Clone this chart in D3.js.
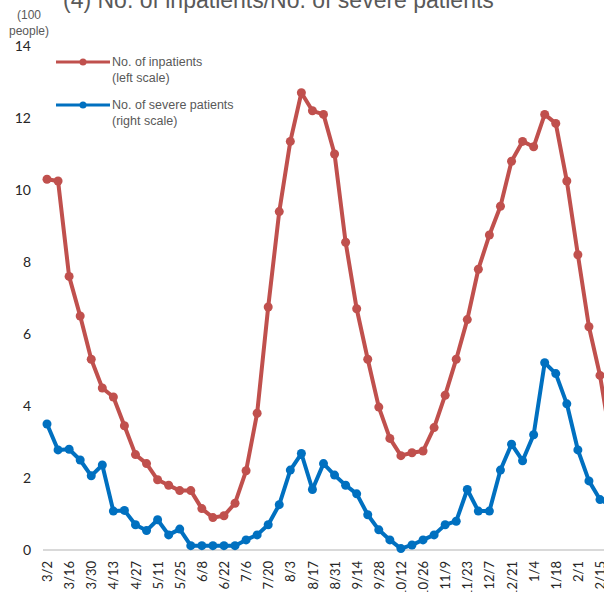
<!DOCTYPE html>
<html>
<head>
<meta charset="utf-8">
<script src="https://cdn.jsdelivr.net/npm/d3@7"></script>
<style>
  body { margin: 0; background: #fff; }
  svg { display: block; font-family: "Liberation Sans", Arial, sans-serif; }
</style>
</head>
<body>
<div class="viz"></div>
<script>
// weekly data, starting 3/2
var weeks = ["3/2","3/9","3/16","3/23","3/30","4/6","4/13","4/20","4/27","5/4","5/11","5/18","5/25","6/1","6/8","6/15","6/22","6/29","7/6","7/13","7/20","7/27","8/3","8/10","8/17","8/24","8/31","9/7","9/14","9/21","9/28","10/5","10/12","10/19","10/26","11/2","11/9","11/16","11/23","11/30","12/7","12/14","12/21","12/28","1/4","1/11","1/18","1/25","2/1","2/8","2/15","2/22"];

// inpatients, in 100 people (left scale)
var inpatients = [10.3,10.25,7.6,6.5,5.3,4.5,4.25,3.45,2.65,2.4,1.95,1.8,1.65,1.65,1.15,0.9,0.95,1.3,2.2,3.8,6.75,9.4,11.35,12.7,12.2,12.1,11.0,8.55,6.7,5.3,3.97,3.1,2.62,2.7,2.75,3.4,4.3,5.3,6.4,7.8,8.75,9.55,10.8,11.35,11.2,12.1,11.85,10.25,8.2,6.2,4.85,3.0];

// severe patients (right scale)
var severe = [17.5,13.9,14,12.5,10.3,11.8,5.4,5.5,3.5,2.7,4.2,2.1,2.9,0.6,0.6,0.6,0.6,0.6,1.4,2.1,3.5,6.3,11.1,13.4,8.4,12,10.4,9,7.8,4.9,2.8,1.4,0.2,0.7,1.4,2.1,3.5,4,8.4,5.4,5.4,11.1,14.7,12.4,16,26,24.5,20.3,13.9,9.6,7,6.2];

var leftTicks = [0, 2, 4, 6, 8, 10, 12, 14];
var labelWeeks = weeks.filter(function(d, i) { return i % 2 === 0; });

var width = 604, height = 592;
var red = "#C0504D", blue = "#0070C0";

var svg = d3.select('.viz').append('svg')
    .attr('width', width)
    .attr('height', height);

var x = d3.scalePoint()
    .domain(weeks)
    .range([47, 47 + 51 * 11.06]);

var yLeft = d3.scaleLinear()
    .domain([0, 14])
    .range([550, 46]);

var yRight = d3.scaleLinear()
    .domain([0, 70])
    .range([550, 46]);

// title (cut off at top)
svg.append('text')
    .attr('x', 63)
    .attr('y', 8)
    .attr('fill', '#595959')
    .style('font-size', '23px')
    .text('(4) No. of inpatients/No. of severe patients');

// unit label
svg.append('text')
    .attr('x', 29).attr('y', 19)
    .attr('text-anchor', 'middle')
    .attr('fill', '#595959')
    .style('font-size', '12px')
    .text('(100');
svg.append('text')
    .attr('x', 29).attr('y', 35)
    .attr('text-anchor', 'middle')
    .attr('fill', '#595959')
    .style('font-size', '12px')
    .text('people)');

// left axis labels, no line
var yAxis = svg.append('g')
    .attr('transform', 'translate(31,0)')
    .call(d3.axisLeft(yLeft).tickValues(leftTicks).tickSize(0).tickPadding(0));
yAxis.select('.domain').remove();
yAxis.selectAll('text')
    .attr('fill', '#262626')
    .style('font-family', 'Lato, "Liberation Sans", sans-serif')
    .style('font-size', '14px');

// x axis
svg.append('line')
    .attr('x1', 43).attr('x2', width)
    .attr('y1', yLeft(0)).attr('y2', yLeft(0))
    .attr('stroke', '#D9D9D9')
    .attr('stroke-width', 2);

var xAxis = svg.append('g')
    .attr('transform', 'translate(0,' + yLeft(0) + ')')
    .call(d3.axisBottom(x).tickValues(labelWeeks).tickSize(0));
xAxis.select('.domain').remove();
xAxis.selectAll('text')
    .attr('transform', 'rotate(-90)')
    .attr('x', -11)
    .attr('y', 0)
    .attr('dy', '0.35em')
    .style('text-anchor', 'end')
    .attr('fill', '#262626')
    .style('font-family', 'Lato, "Liberation Sans", sans-serif')
    .style('font-size', '13px');

function drawSeries(values, yScale, color) {
    var line = d3.line()
        .x(function(d, i) { return x(weeks[i]); })
        .y(function(d) { return yScale(d); });

    svg.append('path')
        .datum(values)
        .attr('fill', 'none')
        .attr('stroke', color)
        .attr('stroke-width', 4)
        .attr('stroke-linejoin', 'round')
        .attr('d', line);

    svg.append('g').selectAll('circle')
        .data(values)
        .enter().append('circle')
        .attr('cx', function(d, i) { return x(weeks[i]); })
        .attr('cy', function(d) { return yScale(d); })
        .attr('r', 4.5)
        .attr('fill', color);
}

drawSeries(inpatients, yLeft, red);
drawSeries(severe, yRight, blue);

// legend
var legend = [
    { color: red, y: 62, lines: ['No. of inpatients', '(left scale)'] },
    { color: blue, y: 105, lines: ['No. of severe patients', '(right scale)'] }
];
legend.forEach(function(l) {
    svg.append('line')
        .attr('x1', 56).attr('x2', 110)
        .attr('y1', l.y).attr('y2', l.y)
        .attr('stroke', l.color).attr('stroke-width', 3);
    svg.append('circle')
        .attr('cx', 83).attr('cy', l.y).attr('r', 3.5)
        .attr('fill', l.color);
    l.lines.forEach(function(t, k) {
        svg.append('text')
            .attr('x', 112).attr('y', l.y + 4 + k * 16)
            .attr('fill', '#595959')
            .style('font-size', '12.5px')
            .text(t);
    });
});
</script>
</body>
</html>
